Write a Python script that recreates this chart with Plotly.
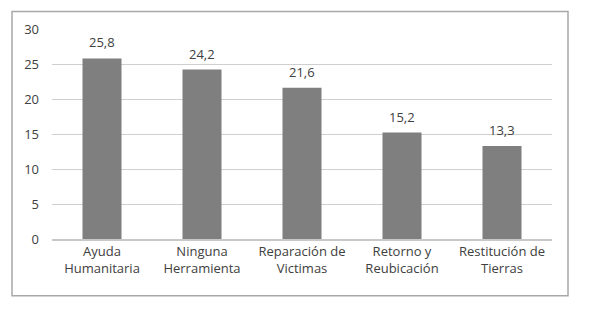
import plotly.graph_objects as go

categories = ["Ayuda<br>Humanitaria", "Ninguna<br>Herramienta", "Reparación de<br>Victimas",
              "Retorno y<br>Reubicación", "Restitución de<br>Tierras"]
values = [25.8, 24.2, 21.6, 15.2, 13.3]
value_labels = ["25,8", "24,2", "21,6", "15,2", "13,3"]
y_ticks = [0, 5, 10, 15, 20, 25, 30]

font_family = "Open Sans, Noto Sans, sans-serif"
text_color = "#404040"

fig = go.Figure()
fig.add_trace(go.Bar(x=categories, y=values, marker=dict(color="#7f7f7f", line=dict(width=0)),
                     hoverinfo="skip"))

for c, v, t in zip(categories, values, value_labels):
    fig.add_annotation(x=c, y=v, text=t, showarrow=False, yanchor="bottom", yshift=5,
                       font=dict(family=font_family, size=13, color=text_color))

fig.update_layout(
    width=595, height=309,
    margin=dict(l=44, r=51, t=16, b=78),
    paper_bgcolor="white", plot_bgcolor="white",
    bargap=0.61, showlegend=False,
    font=dict(family=font_family, size=13, color=text_color),
    xaxis=dict(showgrid=False, showline=True, linecolor="#c8c8c8", linewidth=1.5,
               ticks="", tickfont=dict(size=13, color=text_color)),
    yaxis=dict(range=[0, 30], tickvals=y_ticks, showgrid=True, gridcolor="#cfcfcf",
               gridwidth=1.2, zeroline=False, showline=False, ticks="",
               ticklabelstandoff=12, tickfont=dict(size=13, color=text_color)),
    shapes=[dict(type="rect", xref="paper", yref="paper", x0=-0.08, x1=1.032,
                 y0=-0.27, y1=1.0837, line=dict(color="#a8a8a8", width=1.5),
                 fillcolor="rgba(0,0,0,0)", layer="below")],
)

fig.write_html("out.html")
